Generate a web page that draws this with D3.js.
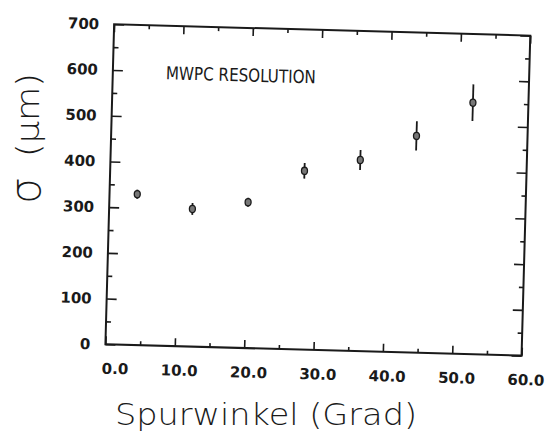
<!DOCTYPE html>
<html>
<head>
<meta charset="utf-8">
<script src="https://cdn.jsdelivr.net/npm/d3@7"></script>
<style>
  body { margin: 0; background: #fff; }
  svg { display: block; }
  text { fill: #1a1a1a; }
</style>
</head>
<body>
<div id="chart"></div>
<script>
// data
var angles   = [4, 12, 20, 28, 36, 44, 52];          // Spurwinkel (Grad)
var sigma    = [330, 301, 319, 391, 418, 474, 550];  // resolution (um)
var sigmaErr = [10, 13, 10, 17, 22, 32, 40];

var xTicks = [0, 10, 20, 30, 40, 50, 60],
    xMinor = [5, 15, 25, 35, 45, 55],
    yTicks = [0, 100, 200, 300, 400, 500, 600, 700],
    yMinor = [50, 150, 250, 350, 450, 550, 650];

var width = 547, height = 436,
    pLeft = 109.7, pRight = 526, pTop = 29.9, pBottom = 350,
    tilt = 1.56;   // the scan is a bit crooked

var svg = d3.select("#chart").append("svg")
    .attr("width", width)
    .attr("height", height);

var x = d3.scaleLinear().domain([0, 60]).range([pLeft, pRight]),
    y = d3.scaleLinear().domain([0, 700]).range([pBottom, pTop]);

var g = svg.append("g")
    .attr("transform", "rotate(" + tilt + "," + (pLeft + pRight) / 2 + "," + (pTop + pBottom) / 2 + ")");

// frame
g.append("rect")
    .attr("x", pLeft).attr("y", pTop)
    .attr("width", pRight - pLeft).attr("height", pBottom - pTop)
    .attr("fill", "none").attr("stroke", "#1a1a1a").attr("stroke-width", 2);

function style(sel) {
    sel.select(".domain").remove();
    sel.attr("color", "#1a1a1a");
    sel.selectAll("line").attr("stroke-width", 1.6);
    return sel;
}

// bottom
var gx = g.append("g").attr("transform", "translate(0," + pBottom + ")")
    .call(d3.axisBottom(x).tickValues(xTicks).tickSize(-8).tickPadding(0).tickFormat(d3.format(".1f")));
style(gx).selectAll("text")
    .attr("text-anchor", "end").attr("x", 23).attr("y", 29.5).attr("dy", 0)
    .style("font-family", "DejaVu Sans").style("font-weight", "bold").style("font-size", "15px");
style(g.append("g").attr("transform", "translate(0," + pBottom + ")")
    .call(d3.axisBottom(x).tickValues(xMinor).tickSize(-4).tickFormat("")));

// top
style(g.append("g").attr("transform", "translate(0," + pTop + ")")
    .call(d3.axisTop(x).tickValues(xTicks).tickSize(-8).tickFormat("")));
style(g.append("g").attr("transform", "translate(0," + pTop + ")")
    .call(d3.axisTop(x).tickValues(xMinor).tickSize(-4).tickFormat("")));

// left
var gy = g.append("g").attr("transform", "translate(" + pLeft + ",0)")
    .call(d3.axisLeft(y).tickValues(yTicks).tickSize(-10).tickPadding(15).tickFormat(d3.format("d")));
style(gy).selectAll("text")
    .style("font-family", "DejaVu Sans").style("font-weight", "bold").style("font-size", "15px");
style(g.append("g").attr("transform", "translate(" + pLeft + ",0)")
    .call(d3.axisLeft(y).tickValues(yMinor).tickSize(-5).tickFormat("")));

// right
style(g.append("g").attr("transform", "translate(" + pRight + ",0)")
    .call(d3.axisRight(y).tickValues(yTicks).tickSize(-10).tickFormat("")));
style(g.append("g").attr("transform", "translate(" + pRight + ",0)")
    .call(d3.axisRight(y).tickValues(yMinor).tickSize(-4.5).tickFormat("")));

// label inside
g.append("text")
    .attr("x", 162.8).attr("y", 83.5)
    .attr("textLength", 150).attr("lengthAdjust", "spacingAndGlyphs")
    .style("font-family", "DejaVu Sans Condensed, DejaVu Sans")
    .style("font-size", "18px")
    .text("MWPC RESOLUTION");

// points
var pts = g.append("g").selectAll("g")
    .data(angles.map(function(a, i) { return {a: a, s: sigma[i], e: sigmaErr[i]}; }))
    .join("g");

pts.append("line")
    .attr("x1", function(d) { return x(d.a); })
    .attr("x2", function(d) { return x(d.a); })
    .attr("y1", function(d) { return y(d.s - d.e); })
    .attr("y2", function(d) { return y(d.s + d.e); })
    .attr("stroke", "#1a1a1a").attr("stroke-width", 1.8);

pts.append("ellipse")
    .attr("cx", function(d) { return x(d.a); })
    .attr("cy", function(d) { return y(d.s); })
    .attr("rx", 3).attr("ry", 3.6)
    .attr("fill", "#777").attr("stroke", "#1a1a1a").attr("stroke-width", 1.3);

// axis titles
svg.append("text")
    .attr("x", 266).attr("y", 425)
    .attr("text-anchor", "middle")
    .attr("textLength", 302).attr("lengthAdjust", "spacingAndGlyphs")
    .style("font-family", "DejaVu Sans").style("font-weight", 200).style("font-size", "30px")
    .text("Spurwinkel (Grad)");

svg.append("text")
    .attr("transform", "translate(40,204) rotate(-90)")
    .style("font-family", "DejaVu Sans").style("font-weight", 200).style("font-size", "42px")
    .text("σ");

svg.append("text")
    .attr("transform", "translate(39,157) rotate(-90)")
    .attr("textLength", 84).attr("lengthAdjust", "spacingAndGlyphs")
    .style("font-family", "DejaVu Sans").style("font-weight", 200).style("font-size", "32px")
    .text("(µm)");
</script>
</body>
</html>
